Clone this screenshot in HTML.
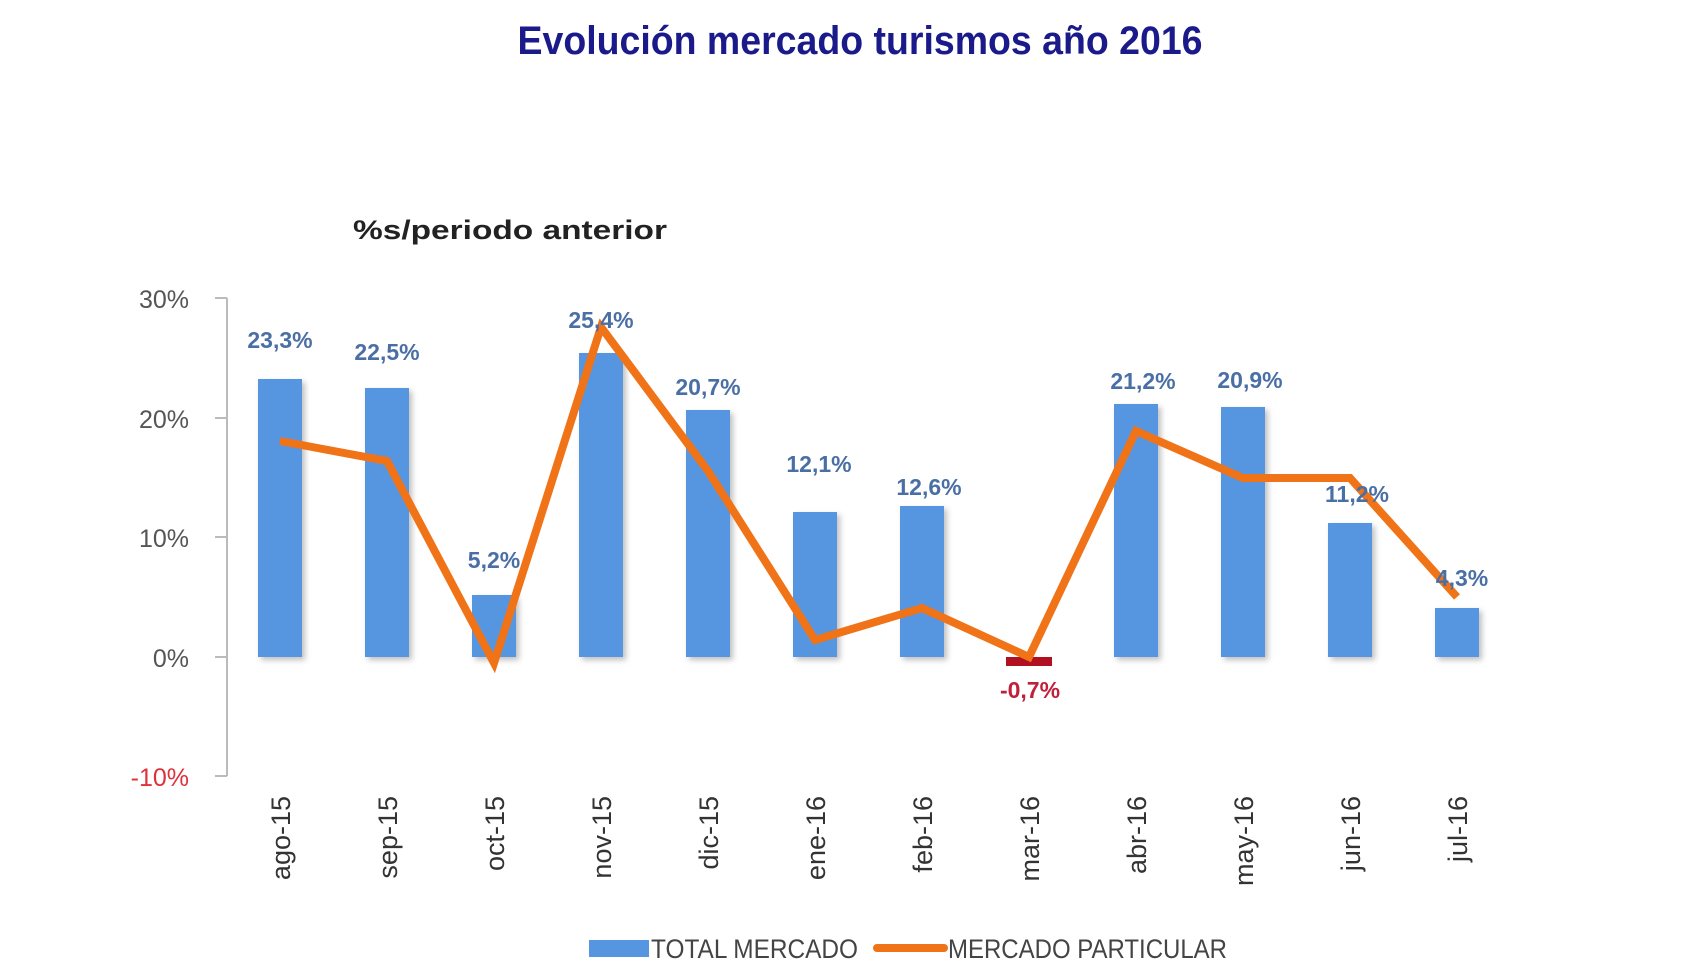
<!DOCTYPE html>
<html><head><meta charset="utf-8"><style>
html,body{margin:0;padding:0;background:#fff;}
svg{display:block;}
</style></head><body>
<svg width="1706" height="960" viewBox="0 0 1706 960" xmlns="http://www.w3.org/2000/svg">
<defs>
<filter id="sh" x="-20%" y="-5%" width="150%" height="120%"><feDropShadow dx="3" dy="3" stdDeviation="3" flood-color="#000" flood-opacity="0.25"/></filter>
</defs>
<rect width="1706" height="960" fill="#fff"/>
<text x="860" y="54" text-anchor="middle" font-family="Liberation Sans, sans-serif" font-weight="bold" font-size="40" fill="#1a1a8a" textLength="685" lengthAdjust="spacingAndGlyphs">Evolución mercado turismos año 2016</text>
<text x="353" y="239" font-family="Liberation Sans, sans-serif" font-weight="bold" font-size="27" fill="#222" textLength="314" lengthAdjust="spacingAndGlyphs">%s/periodo anterior</text>
<g stroke="#bbb" stroke-width="2" fill="none">
<line x1="227" y1="298" x2="227" y2="776"/>
<line x1="215" y1="298" x2="227" y2="298"/>
<line x1="215" y1="418" x2="227" y2="418"/>
<line x1="215" y1="537" x2="227" y2="537"/>
<line x1="215" y1="657" x2="227" y2="657"/>
<line x1="215" y1="776" x2="227" y2="776"/>
</g>
<g font-family="Liberation Sans, sans-serif" font-size="25" fill="#555" text-anchor="end">
<text x="189" y="308">30%</text>
<text x="189" y="428">20%</text>
<text x="189" y="547">10%</text>
<text x="189" y="667">0%</text>
<text x="189" y="786" fill="#e0303a">-10%</text>
</g>
<g fill="#5696e0" filter="url(#sh)">
<rect x="258" y="379" width="44" height="278"/>
<rect x="365" y="388" width="44" height="269"/>
<rect x="472" y="595" width="44" height="62"/>
<rect x="579" y="353" width="44" height="304"/>
<rect x="686" y="410" width="44" height="247"/>
<rect x="793" y="512" width="44" height="145"/>
<rect x="900" y="506" width="44" height="151"/>
<rect x="1114" y="404" width="44" height="253"/>
<rect x="1221" y="407" width="44" height="250"/>
<rect x="1328" y="523" width="44" height="134"/>
<rect x="1435" y="608" width="44" height="49"/>
</g>
<rect x="1006" y="657" width="46" height="9" fill="#b01020"/>
<polyline fill="none" stroke="#f07318" stroke-width="8" stroke-linejoin="miter" points="280,441 387,461 494,663 601,327 708,471 815,640 922,608 1029,657 1136,431 1243,478 1350,478 1457,597"/>
<g font-family="Liberation Sans, sans-serif" font-weight="bold" font-size="23" fill="#4a6fa5" text-anchor="middle">
<text x="280" y="348">23,3%</text>
<text x="387" y="360">22,5%</text>
<text x="494" y="568">5,2%</text>
<text x="601" y="328">25,4%</text>
<text x="708" y="395">20,7%</text>
<text x="819" y="472">12,1%</text>
<text x="929" y="495">12,6%</text>
<text x="1030" y="698" fill="#c0203a">-0,7%</text>
<text x="1143" y="389">21,2%</text>
<text x="1250" y="388">20,9%</text>
<text x="1357" y="502">11,2%</text>
<text x="1462" y="586">4,3%</text>
</g>
<g font-family="Liberation Sans, sans-serif" font-size="27" fill="#333" text-anchor="end">
<text transform="translate(290,796) rotate(-90)">ago-15</text>
<text transform="translate(397,796) rotate(-90)">sep-15</text>
<text transform="translate(504,796) rotate(-90)">oct-15</text>
<text transform="translate(611,796) rotate(-90)">nov-15</text>
<text transform="translate(718,796) rotate(-90)">dic-15</text>
<text transform="translate(825,796) rotate(-90)">ene-16</text>
<text transform="translate(932,796) rotate(-90)">feb-16</text>
<text transform="translate(1039,796) rotate(-90)">mar-16</text>
<text transform="translate(1146,796) rotate(-90)">abr-16</text>
<text transform="translate(1253,796) rotate(-90)">may-16</text>
<text transform="translate(1360,796) rotate(-90)">jun-16</text>
<text transform="translate(1467,796) rotate(-90)">jul-16</text>
</g>
<rect x="589" y="940" width="60" height="17" fill="#5696e0"/>
<text x="651" y="958" font-family="Liberation Sans, sans-serif" font-size="27" fill="#444" textLength="207" lengthAdjust="spacingAndGlyphs">TOTAL MERCADO</text>
<line x1="877" y1="948" x2="944" y2="948" stroke="#f07318" stroke-width="8" stroke-linecap="round"/>
<text x="948" y="958" font-family="Liberation Sans, sans-serif" font-size="27" fill="#444" textLength="279" lengthAdjust="spacingAndGlyphs">MERCADO PARTICULAR</text>
</svg>
</body></html>
